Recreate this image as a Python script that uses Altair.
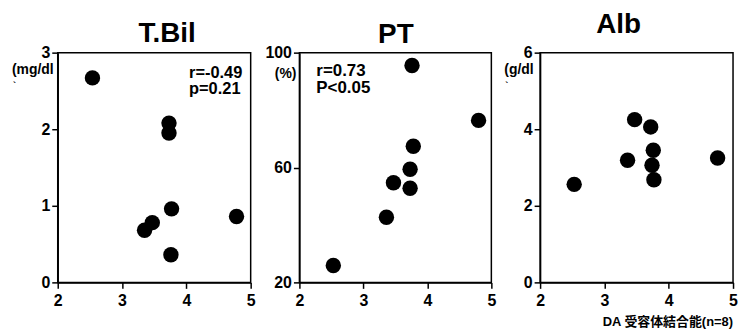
import altair as alt
import pandas as pd

FONT = "Liberation Sans, Arial, Noto Sans CJK JP"

# ---- data ----
x_ticks = [2, 3, 4, 5]

tbil_x = [2.54, 3.73, 3.73, 3.77, 4.78, 3.47, 3.35, 3.76]
tbil_y = [2.67, 2.08, 1.95, 0.96, 0.86, 0.78, 0.68, 0.36]
tbil_ticks = [0, 1, 2, 3]

pt_x = [2.53, 3.36, 3.47, 3.73, 3.73, 3.78, 3.76, 4.80]
pt_y = [25.9, 42.7, 54.7, 52.8, 59.4, 67.4, 95.5, 76.4]
pt_ticks = [20, 60, 100]

alb_x = [2.53, 3.36, 3.47, 3.72, 3.76, 3.74, 3.77, 4.76]
alb_y = [2.56, 3.19, 4.25, 4.06, 3.45, 3.06, 2.68, 3.25]
alb_ticks = [0, 2, 4, 6]

titles = ["T.Bil", "PT", "Alb"]
units = ["(mg/dl", "(%)", "(g/dl"]
tbil_stats = ["r=-0.49", "p=0.21"]
pt_stats = ["r=0.73", "P<0.05"]
xlabel = "DA 受容体結合能(n=8)"


def txt(s, x, y, size, align="left", baseline="alphabetic"):
    return alt.Chart(pd.DataFrame({"t": [s]})).mark_text(
        font=FONT, fontWeight="bold", fontSize=size, color="black",
        align=align, baseline=baseline
    ).encode(text="t:N", x=alt.value(x), y=alt.value(y))


def panel(xs, ys, ydom, yticks, w):
    df = pd.DataFrame({"x": xs, "y": ys})
    return alt.Chart(df).mark_circle(size=240, color="black", opacity=1).encode(
        x=alt.X("x:Q", scale=alt.Scale(domain=[2, 5], nice=False, zero=False),
                axis=alt.Axis(values=x_ticks, title=None, format="d")),
        y=alt.Y("y:Q", scale=alt.Scale(domain=ydom, nice=False, zero=False),
                axis=alt.Axis(values=yticks, title=None, format="d")),
    ).properties(width=w, height=231)


p1 = alt.layer(
    panel(tbil_x, tbil_y, [0, 3], tbil_ticks, 194),
    txt(titles[0], 110, -11, 28, align="center"),
    txt(units[0], -46, 21, 14),
    txt("`", -45, 36, 9),
    txt(tbil_stats[0], 132, 25, 16.5),
    txt(tbil_stats[1], 132, 42, 16.5),
)

p2 = alt.layer(
    panel(pt_x, pt_y, [20, 100], pt_ticks, 193),
    txt(titles[1], 97, -10, 28, align="center"),
    txt(units[1], -3, 25, 14, align="right"),
    txt(pt_stats[0], 17, 23, 17),
    txt(pt_stats[1], 17, 41, 17),
)

p3 = alt.layer(
    panel(alb_x, alb_y, [0, 6], alb_ticks, 194),
    txt(titles[2], 79, -20, 28, align="center"),
    txt(units[2], -36, 21, 14),
    txt("`", -35, 36, 9),
    txt(xlabel, 194, 275, 13, align="right"),
)

chart = alt.hconcat(p1, p2, p3, spacing=49, bounds="flush").properties(
    padding={"left": 3, "top": 1, "right": 0, "bottom": 0}
).configure_view(
    stroke="black", strokeWidth=1.5
).configure_axis(
    grid=False, domainColor="black", domainWidth=1.5, tickColor="black",
    tickWidth=1.5, tickSize=6, labelFont=FONT, labelFontWeight="bold",
    labelFontSize=16, labelColor="black", labelPadding=2, labelFlush=False,
    labelOverlap=False
).configure_axisX(labelPadding=4)

chart.save("out.html", embed_options={"renderer": "svg", "actions": False})
